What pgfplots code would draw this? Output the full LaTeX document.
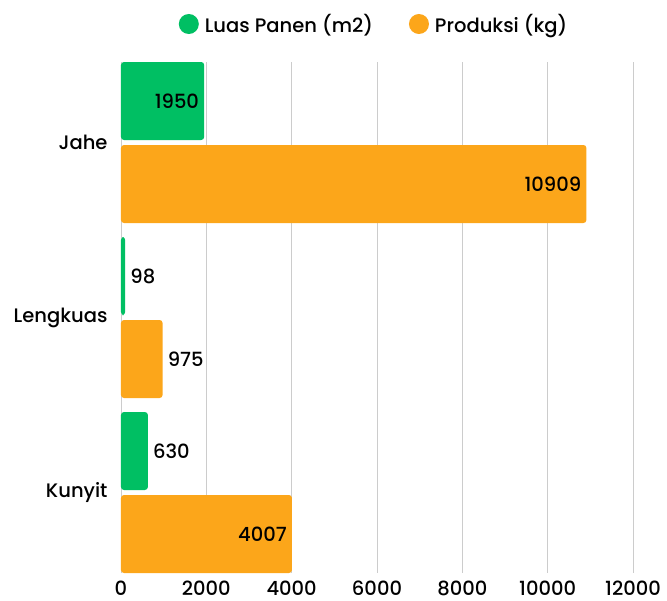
\documentclass[border=0pt]{standalone}
\usepackage{pgfplots}
\pgfplotsset{compat=1.18}
\usepackage{fontspec}
\setmainfont{Poppins Medium}
\definecolor{cgreen}{RGB}{0,191,99}
\definecolor{corange}{RGB}{252,166,26}
\definecolor{cgrid}{RGB}{204,204,204}
\newcommand{\fs}{\fontsize{19.6}{22}\selectfont}

\begin{document}
\begin{tikzpicture}
\begin{axis}[
 name=ax,
 scale only axis, width=512bp, height=511bp,
 xbar,
 xmin=0, xmax=12000,
 ymin=-0.46, ymax=2.46,
 y dir=reverse,
 bar width=78bp,
 ytick={0,1,2}, yticklabels={Jahe,Lengkuas,Kunyit},
 xtick={0,2000,...,12000},
 xmajorgrids, grid style={draw=cgrid, line width=0.9bp},
 axis line style={draw=none},
 major tick length=0pt,
 tick label style={font=\fs},
 /pgf/number format/assume math mode=true,
 /pgf/number format/1000 sep={},
 scaled x ticks=false,
 yticklabel style={xshift=-10bp},
 xticklabel style={yshift=-4bp},
 legend columns=-1,
 legend style={at={(0.5,1)}, anchor=center, yshift=38bp, xshift=-3bp, draw=none,
   font=\fs,
   /tikz/every odd column/.append style={column sep=4bp},
   /tikz/every even column/.append style={column sep=34bp}},
 legend image code/.code={\fill[#1,draw=none] (10bp,0bp) circle (10bp);},
 every node near coord/.append style={font=\fs, inner sep=5bp, black},
 nodes near coords={\pgfmathprintnumber[fixed,precision=0]{\pgfplotspointmeta}},
 point meta=x,
]
% bars
\addplot[fill=cgreen, draw=none, rounded corners=3bp, bar shift=41.5bp, nodes near coords={}]
  coordinates {(1950,0) (98,1) (630,2)};
\addlegendentry{Luas Panen (m2)}
\addplot[fill=corange, draw=none, rounded corners=3bp, bar shift=-41.5bp, nodes near coords={}]
  coordinates {(10909,0) (975,1) (4007,2)};
\addlegendentry{Produksi (kg)}
% labels inside bars
\addplot[draw=none, fill=none, bar shift=41.5bp, forget plot,
  every node near coord/.append style={anchor=east}]
  coordinates {(1950,0)};
\addplot[draw=none, fill=none, bar shift=-41.5bp, forget plot,
  every node near coord/.append style={anchor=east}]
  coordinates {(10909,0) (4007,2)};
% labels outside bars
\addplot[draw=none, fill=none, bar shift=41.5bp, forget plot,
  every node near coord/.append style={anchor=west}]
  coordinates {(98,1) (630,2)};
\addplot[draw=none, fill=none, bar shift=-41.5bp, forget plot,
  every node near coord/.append style={anchor=west}]
  coordinates {(975,1)};
\end{axis}
\pgfresetboundingbox
\path ([shift={(-121bp,-28bp)}]ax.south west) rectangle ([shift={(34bp,62bp)}]ax.north east);
\end{tikzpicture}
\end{document}
